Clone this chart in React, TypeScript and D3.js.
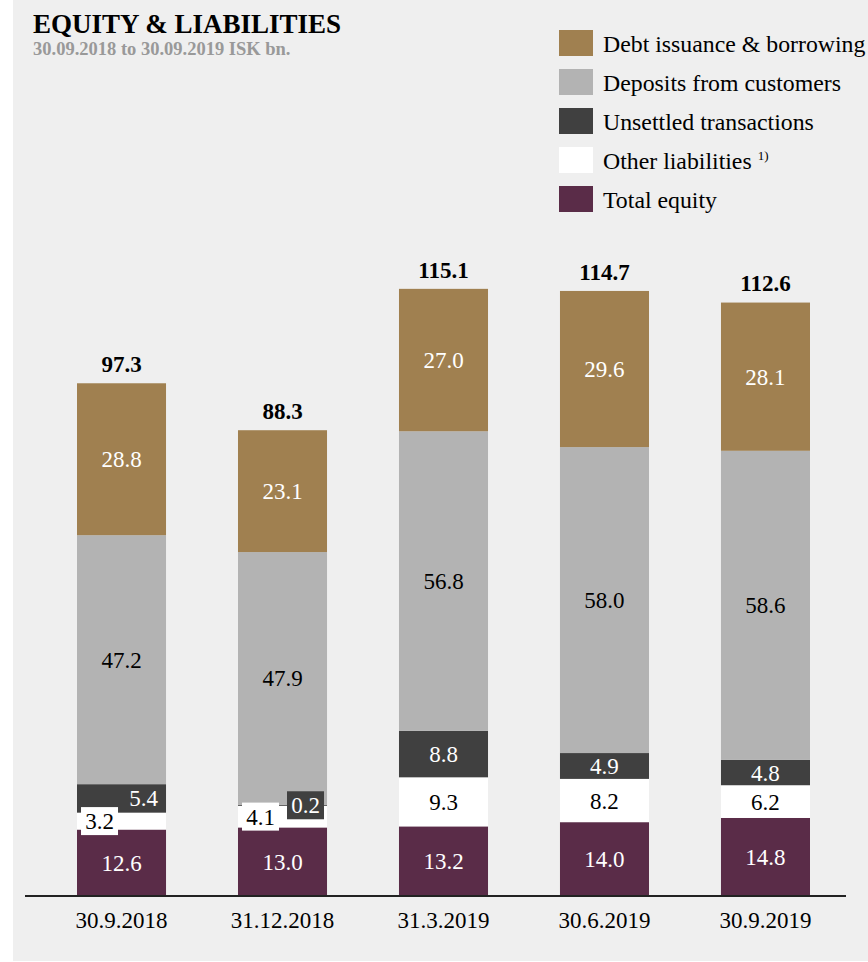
import React from "react";
import * as d3 from "d3";

const categories = ["30.9.2018", "31.12.2018", "31.3.2019", "30.6.2019", "30.9.2019"];
const totalEquity = [12.6, 13.0, 13.2, 14.0, 14.8];
const otherLiabilities = [3.2, 4.1, 9.3, 8.2, 6.2];
const unsettledTransactions = [5.4, 0.2, 8.8, 4.9, 4.8];
const depositsFromCustomers = [47.2, 47.9, 56.8, 58.0, 58.6];
const debtIssuance = [28.8, 23.1, 27.0, 29.6, 28.1];
const totals = [97.3, 88.3, 115.1, 114.7, 112.6];

const seriesKeys = ["equity", "other", "unsettled", "deposits", "debt"];
const seriesValues: Record<string, number[]> = {
  equity: totalEquity,
  other: otherLiabilities,
  unsettled: unsettledTransactions,
  deposits: depositsFromCustomers,
  debt: debtIssuance,
};
const seriesColor: Record<string, string> = {
  equity: "#5a2c48",
  other: "#ffffff",
  unsettled: "#404040",
  deposits: "#b3b3b3",
  debt: "#a08050",
};
const labelColor: Record<string, string> = {
  equity: "#ffffff",
  other: "#000000",
  unsettled: "#ffffff",
  deposits: "#000000",
  debt: "#ffffff",
};

const legendItems = [
  { key: "debt", label: "Debt issuance & borrowing", sup: "" },
  { key: "deposits", label: "Deposits from customers", sup: "" },
  { key: "unsettled", label: "Unsettled transactions", sup: "" },
  { key: "other", label: "Other liabilities", sup: "1)" },
  { key: "equity", label: "Total equity", sup: "" },
];

// callout placement for tiny segments (offsets from segment centre)
const callouts: Record<string, { dx: number; dy: number; box?: string }> = {
  "other-0": { dx: -22, dy: 0, box: "#ffffff" },
  "unsettled-0": { dx: 22, dy: 0 },
  "other-1": { dx: -22, dy: 0, box: "#ffffff" },
  "unsettled-1": { dx: 23, dy: 0, box: "#404040" },
};

const W = 868;
const H = 962;
const FONT = "'Liberation Serif', 'Times New Roman', serif";

export default function App() {
  const x = d3.scaleBand<string>().domain(categories).range([77, 810]).paddingInner(0.447).paddingOuter(0);
  const y = d3.scaleLinear().domain([0, 120]).range([896, 263]);

  const table = categories.map((c, i) => {
    const row: any = { cat: c };
    seriesKeys.forEach((k) => (row[k] = seriesValues[k][i]));
    return row;
  });
  const stacked = d3.stack<any>().keys(seriesKeys)(table);
  const bw = x.bandwidth();

  return (
    <svg width={W} height={H} style={{ position: "absolute", left: 0, top: 0 }} fontFamily={FONT}>
      <rect x={13} y={0} width={W - 13} height={961} fill="#efefef" />
      <text x={33} y={33} fontSize={27} fontWeight="bold" fill="#000">EQUITY &amp; LIABILITIES</text>
      <text x={33} y={55} fontSize={18.5} fontWeight="bold" fill="#999">30.09.2018 to 30.09.2019 ISK bn.</text>

      {legendItems.map((it, i) => (
        <g key={it.key} transform={`translate(559, ${30 + i * 39})`}>
          <rect width={34} height={26} fill={seriesColor[it.key]} />
          <text x={44} y={22} fontSize={23.8} fill="#000">
            {it.label}
            {it.sup ? <tspan fontSize={13} dx={6} dy={-9}>{it.sup}</tspan> : null}
          </text>
        </g>
      ))}

      {stacked.map((layer) => (
        <g key={layer.key}>
          {layer.map((d, i) => {
            const x0 = x(categories[i]) as number;
            const yTop = y(d[1]);
            const yBot = y(d[0]);
            return (
              <rect key={i} x={x0} y={yTop} width={bw} height={yBot - yTop} fill={seriesColor[layer.key]} />
            );
          })}
        </g>
      ))}

      {stacked.map((layer) => (
        <g key={"l" + layer.key}>
          {layer.map((d, i) => {
            const cx = (x(categories[i]) as number) + bw / 2;
            const cy = (y(d[0]) + y(d[1])) / 2;
            const v = seriesValues[layer.key][i];
            const co = callouts[`${layer.key}-${i}`];
            const tx = cx + (co ? co.dx : 0);
            const ty = cy + (co ? co.dy : 0);
            return (
              <g key={i}>
                {co && co.box ? <rect x={tx - 18.5} y={ty - 14} width={37} height={28} fill={co.box} /> : null}
                <text x={tx} y={ty} dy="0.35em" textAnchor="middle" fontSize={23} fill={labelColor[layer.key]}>
                  {v.toFixed(1)}
                </text>
              </g>
            );
          })}
        </g>
      ))}

      {totals.map((t, i) => (
        <text key={i} x={(x(categories[i]) as number) + bw / 2} y={y(t) - 11} textAnchor="middle" fontSize={23} fontWeight="bold" fill="#000">
          {t.toFixed(1)}
        </text>
      ))}

      <line x1={25} x2={846} y1={896} y2={896} stroke="#222" strokeWidth={2} />
      {categories.map((c) => (
        <text key={c} x={(x(c) as number) + bw / 2} y={928} textAnchor="middle" fontSize={23} fill="#000">
          {c}
        </text>
      ))}
    </svg>
  );
}
